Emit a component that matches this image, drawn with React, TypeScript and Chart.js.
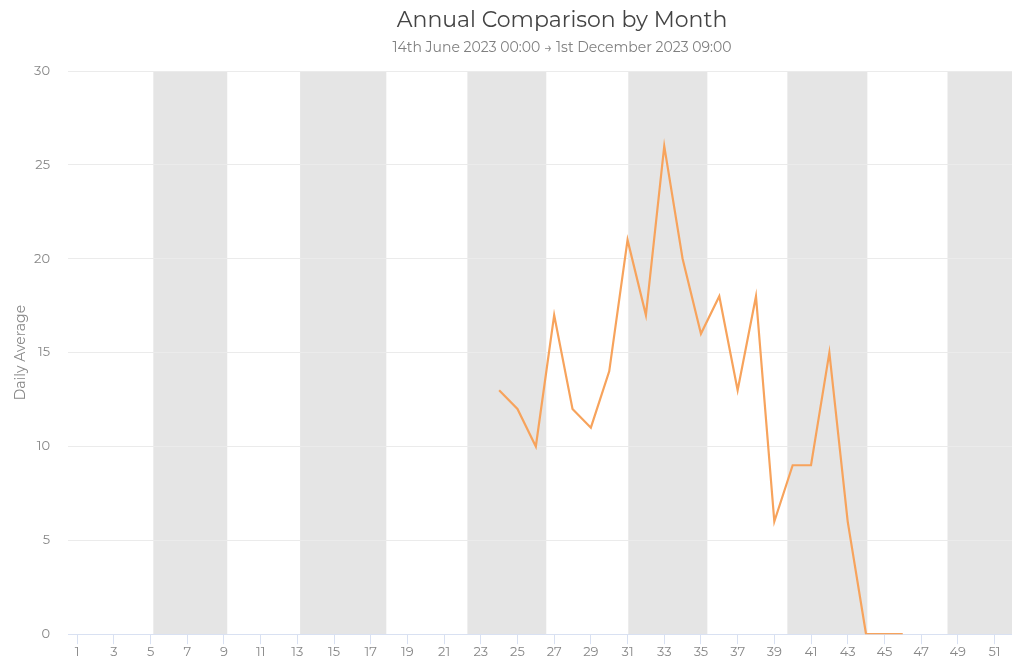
import React, { useEffect, useRef } from "react";
import { Chart, registerables } from "chart.js";

Chart.register(...registerables);

const weekLabels = [
  "1", "2", "3", "4", "5", "6", "7", "8", "9", "10",
  "11", "12", "13", "14", "15", "16", "17", "18", "19", "20",
  "21", "22", "23", "24", "25", "26", "27", "28", "29", "30",
  "31", "32", "33", "34", "35", "36", "37", "38", "39", "40",
  "41", "42", "43", "44", "45", "46", "47", "48", "49", "50",
  "51", "52",
];

const dailyAverage: (number | null)[] = [
  null, null, null, null, null, null, null, null, null, null,
  null, null, null, null, null, null, null, null, null, null,
  null, null, null, 13, 12, 10, 17, 12, 11, 14,
  21, 17, 26, 20, 16, 18, 13, 18, 6, 9,
  9, 15, 6, 0, 0, 0, null, null, null, null,
  null, null,
];

// shaded month bands, in week numbers (Feb, Apr, Jun, Aug, Oct, Dec)
const bandStartWeek = [5.15, 13.15, 22.27, 31.04, 39.71, 48.44];
const bandEndWeek = [9.18, 17.85, 26.57, 35.35, 44.07, 53];

const yTicks = [0, 5, 10, 15, 20, 25, 30];

const TITLE = "Annual Comparison by Month";
const SUBTITLE = "14th June 2023 00:00 \u2192 1st December 2023 09:00";
const FONT = "Montserrat, 'Open Sans', 'Noto Sans', sans-serif";

const bandPlugin = {
  id: "monthBands",
  beforeDraw(chart: any) {
    const { ctx, chartArea, scales } = chart;
    const x = scales.x;
    ctx.save();
    ctx.fillStyle = "#e5e5e5";
    for (let i = 0; i < bandStartWeek.length; i++) {
      const x0 = x.getPixelForValue(bandStartWeek[i] - 1);
      const x1 = Math.min(x.getPixelForValue(bandEndWeek[i] - 1), chartArea.right);
      ctx.fillRect(x0, chartArea.top, x1 - x0, chartArea.bottom - chartArea.top);
    }
    ctx.restore();
  },
};

export default function App() {
  const canvasRef = useRef<HTMLCanvasElement | null>(null);

  useEffect(() => {
    document.body.style.margin = "0";
    const canvas = canvasRef.current;
    if (!canvas) return;
    const chart = new Chart(canvas, {
      type: "line",
      data: {
        labels: weekLabels,
        datasets: [
          {
            label: "Daily Average",
            data: dailyAverage,
            borderColor: "#f7a35c",
            backgroundColor: "#f7a35c",
            borderWidth: 2.2,
            pointRadius: 0,
            tension: 0,
            spanGaps: false,
          },
        ],
      },
      options: {
        responsive: false,
        animation: false,
        layout: { padding: { top: 71, right: 0, bottom: 0, left: 0 } },
        plugins: {
          legend: { display: false },
          title: { display: false },
          tooltip: { enabled: false },
        },
        scales: {
          x: {
            type: "category",
            offset: true,
            grid: {
              display: true,
              drawOnChartArea: false,
              drawTicks: true,
              tickLength: 10,
              color: "#d9e1f2",
            },
            border: { display: true, color: "#d9e1f2" },
            ticks: {
              autoSkip: false,
              maxRotation: 0,
              padding: 0,
              color: "#888888",
              font: { family: FONT, size: 13 },
              callback: (_v: any, i: number) => (i % 2 === 0 ? weekLabels[i] : null),
            },
          },
          y: {
            min: yTicks[0],
            max: yTicks[yTicks.length - 1],
            afterFit: (s: any) => {
              s.width = 68;
            },
            grid: { color: "#ebebeb", drawTicks: false },
            border: { display: false },
            ticks: {
              stepSize: 5,
              padding: 18,
              color: "#888888",
              font: { family: FONT, size: 13 },
            },
            title: {
              display: true,
              text: "Daily Average",
              color: "#888888",
              font: { family: FONT, size: 14 },
              padding: { top: 12, bottom: 0 },
            },
          },
        },
      },
      plugins: [bandPlugin],
    } as any);
    return () => chart.destroy();
  }, []);

  return (
    <div style={{ position: "relative", width: 1012, height: 660, overflow: "hidden", background: "#fff" }}>
      <canvas ref={canvasRef} width={1022} height={660} style={{ position: "absolute", left: 0, top: 0 }} />
      <div
        style={{
          position: "absolute",
          left: 0,
          top: 6,
          width: 1124,
          textAlign: "center",
          fontFamily: FONT,
          fontSize: 22,
          color: "#444444",
          lineHeight: "28px",
        }}
      >
        {TITLE}
      </div>
      <div
        style={{
          position: "absolute",
          left: 0,
          top: 38,
          width: 1124,
          textAlign: "center",
          fontFamily: FONT,
          fontSize: 14,
          color: "#808080",
          lineHeight: "18px",
        }}
      >
        {SUBTITLE}
      </div>
    </div>
  );
}
